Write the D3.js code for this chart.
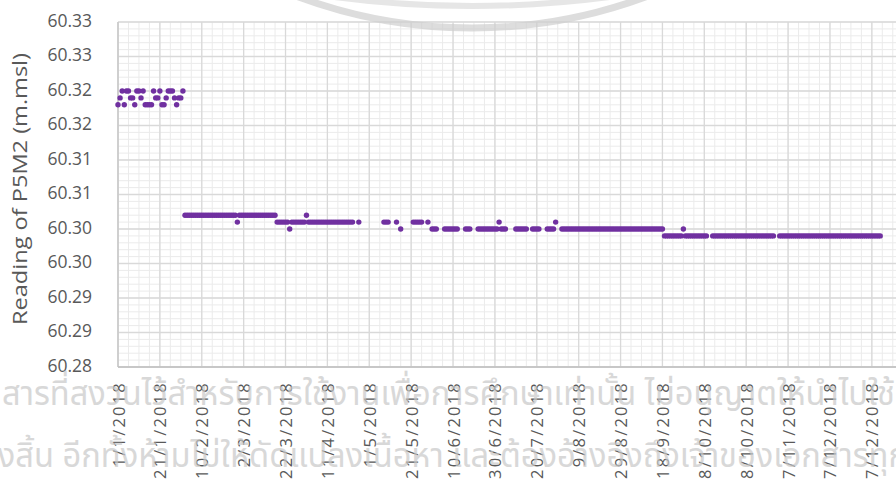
<!doctype html>
<html lang="en">
<head>
<meta charset="utf-8">
<title>Reading of P5M2 2018</title>
<style>
body { margin: 0; background: #fff; font-family: "Open Sans", sans-serif; }
</style>
</head>
<body>
<script src="https://d3js.org/d3.v7.min.js"></script>
<script>

// daily readings of P5M2, in mm above 60 m (318 -> 60.318 m.msl), _ = no reading
var _ = null;
var jan = [318,319,320,318,320,320,319,319,318,320,320,319,320,318,318,318,318,320,319,319,320,318,318,319,320,320,320,319,318,319,319];
var feb = [320,302,302,302,302,302,302,302,302,302,302,302,302,302,302,302,302,302,302,302,302,302,302,302,302,302,301,302];
var mar = [302,302,302,302,302,302,302,302,302,302,302,302,302,302,302,302,302,301,301,301,301,301,301,300,301,301,301,301,301,301,301];
var apr = [302,301,301,301,301,301,301,301,301,301,301,301,301,301,301,301,301,301,301,301,301,301,301,_,_,301,_,_,_,_];
var may = [_,_,_,_,_,_,_,301,301,301,_,_,_,301,_,300,_,_,_,_,_,301,301,301,301,301,_,_,301,_,300];
var jun = [300,300,_,_,_,300,300,300,300,300,300,300,_,_,_,300,300,300,_,_,_,300,300,300,300,300,300,300,300,300];
var jul = [300,301,300,300,300,_,_,_,_,300,300,300,300,300,300,_,_,300,300,300,300,_,_,_,300,300,300,300,301,_,_];
var aug = [300,300,300,300,300,300,300,300,300,300,300,300,300,300,300,300,300,300,300,300,300,300,300,300,300,300,300,300,300,300,300];
var sep = [300,300,300,300,300,300,300,300,300,300,300,300,300,300,300,300,300,300,299,299,299,299,299,299,299,299,299,300,299,299];
var oct = [299,299,299,299,299,299,299,299,299,_,_,299,299,299,299,299,299,299,299,299,299,299,299,299,299,299,299,299,299,299,299];
var nov = [299,299,299,299,299,299,299,299,299,299,_,_,299,299,299,299,299,299,299,299,299,299,299,299,299,299,299,299,299,299];
var dec = [299,299,299,299,299,299,299,299,299,299,299,299,299,299,299,299,299,299,299,299,299,299,299,299,299,299,299,299,299,299,299];
var months = [jan, feb, mar, apr, may, jun, jul, aug, sep, oct, nov, dec];

var yTicks = [60.28, 60.285, 60.29, 60.295, 60.30, 60.305, 60.31, 60.315, 60.32, 60.325, 60.33];
var yTickLabels = ["60.28","60.29","60.29","60.30","60.30","60.31","60.31","60.32","60.32","60.33","60.33"];
var xTickLabels = ["1/1/2018","21/1/2018","10/2/2018","2/3/2018","22/3/2018","11/4/2018","1/5/2018","21/5/2018","10/6/2018","30/6/2018","20/7/2018","9/8/2018","29/8/2018","18/9/2018","8/10/2018","28/10/2018","17/11/2018","7/12/2018","27/12/2018"];

var watermark1 = "สารที่สงวนไว้สำหรับการใช้งานเพื่อการศึกษาเท่านั้น ไม่อนุญาตให้นำไปใช้";
var watermark2 = "ทั้งสิ้น อีกทั้งห้ามไม่ให้ดัดแปลงเนื้อหา และต้องอ้างอิงถึงเจ้าของเอกสารทุก";

var W = 896, H = 479;
var svg = d3.select("body").append("svg")
	.attr("width", W)
	.attr("height", H);

var plotLeft = 118, plotTop = 22, plotBottom = 367;
var parse = d3.utcParse("%d/%m/%Y");
var start = parse("1/1/2018"),
	end = parse("16/1/2019");

var x = d3.scaleUtc()
	.domain([start, end])
	.range([plotLeft, plotLeft + 380 * 2.094]);

var y = d3.scaleLinear()
	.domain([60.28, 60.33])
	.range([plotBottom, plotTop]);

var textCol = "#595959";

// minor grid: 5 days / 0.001 m
var minorX = d3.utcDay.range(start, end, 1).filter(function (d, i) { return i % 5 == 0; });
var minorY = d3.range(0, 51).map(function (i) { return 60.28 + i / 1000; });
var majorX = xTickLabels.map(parse);

var grid = svg.append("g");

grid.selectAll(".minx")
	.data(minorX)
	.join("line")
	.attr("class", "minx")
	.attr("x1", function (d) { return x(d); })
	.attr("x2", function (d) { return x(d); })
	.attr("y1", plotTop)
	.attr("y2", plotBottom)
	.attr("stroke", "#ebebeb");

grid.selectAll(".miny")
	.data(minorY)
	.join("line")
	.attr("class", "miny")
	.attr("x1", plotLeft)
	.attr("x2", W)
	.attr("y1", function (d) { return y(d); })
	.attr("y2", function (d) { return y(d); })
	.attr("stroke", "#ebebeb");

grid.selectAll(".majy")
	.data(yTicks)
	.join("line")
	.attr("class", "majy")
	.attr("x1", plotLeft)
	.attr("x2", W)
	.attr("y1", function (d) { return y(d); })
	.attr("y2", function (d) { return y(d); })
	.attr("stroke", "#d9d9d9")
	.attr("stroke-width", 1.3);

grid.selectAll(".majx")
	.data(majorX)
	.join("line")
	.attr("class", "majx")
	.attr("x1", function (d) { return x(d); })
	.attr("x2", function (d) { return x(d); })
	.attr("y1", plotTop)
	.attr("y2", plotBottom)
	.attr("stroke", "#d9d9d9")
	.attr("stroke-width", 1.3);

// axis lines
svg.append("line")
	.attr("x1", plotLeft).attr("x2", plotLeft)
	.attr("y1", plotTop).attr("y2", plotBottom)
	.attr("stroke", "#c8c8c8").attr("stroke-width", 1.5);
svg.append("line")
	.attr("x1", plotLeft).attr("x2", W)
	.attr("y1", plotBottom).attr("y2", plotBottom)
	.attr("stroke", "#bfbfbf").attr("stroke-width", 1.5);

// points
var points = [];
months.forEach(function (m, mi) {
	m.forEach(function (v, di) {
		if (v !== null) points.push({ date: new Date(Date.UTC(2018, mi, di + 1)), value: 60 + v / 1000 });
	});
});

svg.append("g")
	.selectAll("circle")
	.data(points)
	.join("circle")
	.attr("cx", function (d) { return x(d.date); })
	.attr("cy", function (d) { return y(d.value); })
	.attr("r", 2.7)
	.attr("fill", "#7030a0");

// y tick labels
svg.selectAll(".ylab")
	.data(yTicks)
	.join("text")
	.attr("class", "ylab")
	.attr("x", 92)
	.attr("y", function (d) { return y(d) - 2.5; })
	.attr("text-anchor", "end")
	.attr("dominant-baseline", "central")
	.attr("font-size", 17.5)
	.attr("fill", textCol)
	.text(function (d, i) { return yTickLabels[i]; });

// x tick labels
svg.selectAll(".xlab")
	.data(xTickLabels)
	.join("text")
	.attr("class", "xlab")
	.attr("transform", function (d) { return "translate(" + x(parse(d)) + ",381) rotate(-90)"; })
	.attr("text-anchor", "end")
	.attr("dominant-baseline", "central")
	.attr("font-size", 16.5)
	.attr("letter-spacing", 2.2)
	.attr("fill", textCol)
	.text(function (d) { return d; });

// axis title
svg.append("text")
	.attr("transform", "translate(19,189) rotate(-90)")
	.attr("text-anchor", "middle")
	.attr("dominant-baseline", "central")
	.attr("font-size", 20)
	.attr("textLength", 272)
	.attr("lengthAdjust", "spacingAndGlyphs")
	.attr("fill", textCol)
	.text("Reading of P5M2 (m.msl)");

// watermark (seal ring + Thai notice)
var wm = svg.append("g").attr("opacity", 0.7);
wm.append("circle")
	.attr("cx", 472).attr("cy", -472).attr("r", 500)
	.attr("fill", "none").attr("stroke", "#cfcfcf").attr("stroke-width", 7);
wm.append("circle")
	.attr("cx", 472).attr("cy", -1034).attr("r", 1040)
	.attr("fill", "none").attr("stroke", "#dcdcdc").attr("stroke-width", 6);

wm.append("text")
	.attr("x", 2).attr("y", 405)
	.attr("font-family", "'Noto Sans Thai', 'Noto Sans', Loma, Garuda, sans-serif")
	.attr("font-size", 34)
	.attr("fill", "#c8c8c8")
	.attr("textLength", 893)
	.attr("lengthAdjust", "spacingAndGlyphs")
	.text(watermark1);

wm.append("text")
	.attr("x", -22).attr("y", 467)
	.attr("font-family", "'Noto Sans Thai', 'Noto Sans', Loma, Garuda, sans-serif")
	.attr("font-size", 34)
	.attr("fill", "#c8c8c8")
	.attr("textLength", 930)
	.attr("lengthAdjust", "spacingAndGlyphs")
	.text(watermark2);

</script>
</body>
</html>
